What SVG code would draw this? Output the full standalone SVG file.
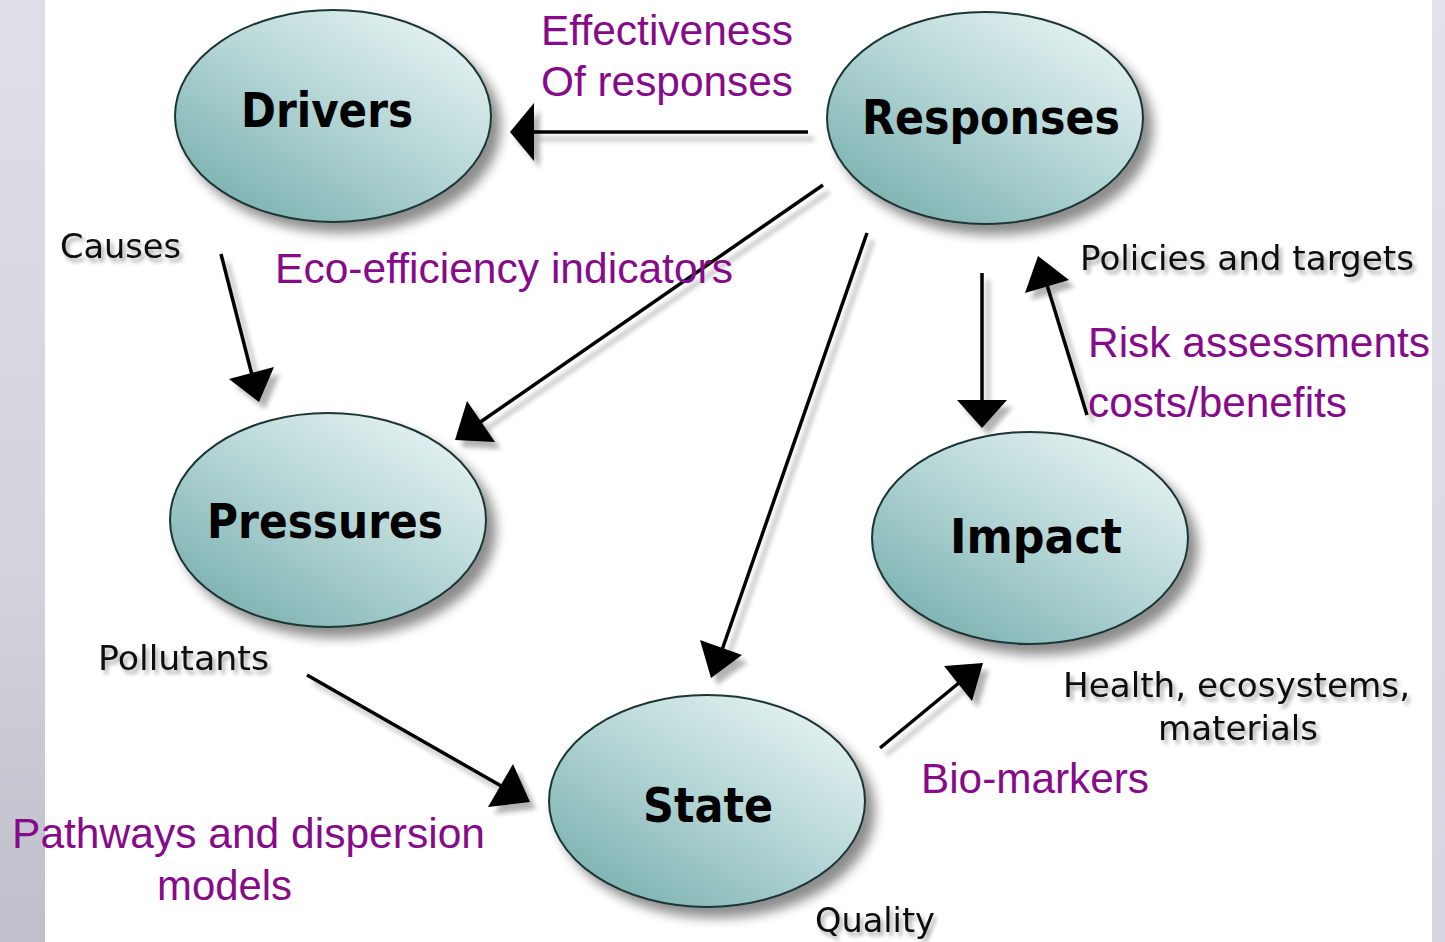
<svg xmlns="http://www.w3.org/2000/svg" width="1445" height="942" viewBox="0 0 1445 942">
<defs>
<linearGradient id="strip" x1="0" y1="0" x2="0" y2="1">
<stop offset="0" stop-color="#dedfe8"/><stop offset="0.6" stop-color="#d3d3de"/><stop offset="1" stop-color="#bfbfcb"/>
</linearGradient>
<linearGradient id="strip2" x1="0" y1="0" x2="0" y2="1">
<stop offset="0" stop-color="#e2e2ec"/><stop offset="1" stop-color="#d6d6e2"/>
</linearGradient>
<linearGradient id="ell" x1="0.85" y1="0.1" x2="0.15" y2="0.9">
<stop offset="0" stop-color="#e2f0f0"/><stop offset="0.5" stop-color="#b2d4d4"/><stop offset="1" stop-color="#7fb3b3"/>
</linearGradient>
<filter id="sh" x="-20%" y="-20%" width="150%" height="150%">
<feGaussianBlur in="SourceAlpha" stdDeviation="6"/>
<feOffset dx="9" dy="10" result="b"/>
<feComponentTransfer><feFuncA type="linear" slope="0.45"/></feComponentTransfer>
<feMerge><feMergeNode/><feMergeNode in="SourceGraphic"/></feMerge>
</filter>
<filter id="lsh" x="-20%" y="-20%" width="150%" height="150%">
<feGaussianBlur in="SourceAlpha" stdDeviation="2.5"/>
<feOffset dx="6" dy="7" result="b"/>
<feComponentTransfer><feFuncA type="linear" slope="0.3"/></feComponentTransfer>
<feMerge><feMergeNode/><feMergeNode in="SourceGraphic"/></feMerge>
</filter>
<filter id="tsh" x="-10%" y="-30%" width="130%" height="180%">
<feGaussianBlur in="SourceAlpha" stdDeviation="2"/>
<feOffset dx="3" dy="4" result="b"/>
<feComponentTransfer><feFuncA type="linear" slope="0.35"/></feComponentTransfer>
<feMerge><feMergeNode/><feMergeNode in="SourceGraphic"/></feMerge>
</filter>
</defs>
<style>
.node ellipse{fill:url(#ell);stroke:#1e3535;stroke-width:2;filter:url(#sh)}
.nt{font-family:"DejaVu Sans",Verdana,sans-serif;font-weight:bold;font-size:48px;fill:#000}
.lb{font-family:"DejaVu Sans",Verdana,sans-serif;font-size:33px;fill:#111;filter:url(#tsh)}
.pl{font-family:"Liberation Sans",Arial,sans-serif;font-size:42.5px;fill:#860a8a}
.cn line{stroke:#000;stroke-width:3.5}
.cn polygon{fill:#000}
</style>
<rect width="1445" height="942" fill="#fff"/>
<rect x="0" y="0" width="45" height="942" fill="url(#strip)"/>
<rect x="1432" y="0" width="13" height="942" fill="url(#strip2)"/>

<g id="connectors" class="cn" filter="url(#lsh)">
<line x1="808" y1="132" x2="532" y2="132"/>
<polygon points="510,132 534,103 534,161"/>
<line x1="221" y1="254" x2="252" y2="375"/>
<polygon points="259,402 229,379 274,367"/>
<line x1="823" y1="185" x2="479" y2="423"/>
<polygon points="455,440 467,401 495,442"/>
<line x1="867" y1="233" x2="722" y2="650"/>
<polygon points="711,678 700,640 742,655"/>
<line x1="982" y1="273" x2="982" y2="402"/>
<polygon points="982,428 957,400 1007,400"/>
<line x1="1087" y1="415" x2="1047" y2="285"/>
<polygon points="1038,256 1069,280 1025,293"/>
<line x1="307" y1="675" x2="503" y2="787"/>
<polygon points="530,802 488,807 513,764"/>
<line x1="880" y1="748" x2="960" y2="682"/>
<polygon points="983,663 972,701 944,666"/>
</g>

<g id="drivers" class="node">
<ellipse cx="333" cy="116" rx="158" ry="106"/>
<text class="nt" x="241" y="127" textLength="172" lengthAdjust="spacingAndGlyphs">Drivers</text>
</g>
<g id="responses" class="node">
<ellipse cx="985" cy="118" rx="158" ry="106"/>
<text class="nt" x="862" y="134" textLength="258" lengthAdjust="spacingAndGlyphs">Responses</text>
</g>
<g id="pressures" class="node">
<ellipse cx="328" cy="520" rx="158" ry="107"/>
<text class="nt" x="207" y="538" textLength="236" lengthAdjust="spacingAndGlyphs">Pressures</text>
</g>
<g id="impact" class="node">
<ellipse cx="1030" cy="538" rx="158" ry="106"/>
<text class="nt" x="950" y="553" textLength="172" lengthAdjust="spacingAndGlyphs">Impact</text>
</g>
<g id="state" class="node">
<ellipse cx="707" cy="801" rx="158" ry="106"/>
<text class="nt" x="643" y="822" textLength="130" lengthAdjust="spacingAndGlyphs">State</text>
</g>

<g id="labels">
<text class="lb" x="60" y="258" textLength="121" lengthAdjust="spacingAndGlyphs">Causes</text>
<text class="lb" x="1080" y="270" textLength="334" lengthAdjust="spacingAndGlyphs">Policies and targets</text>
<text class="lb" x="98" y="670" textLength="171" lengthAdjust="spacingAndGlyphs">Pollutants</text>
<text class="lb" x="1063" y="697" textLength="347" lengthAdjust="spacingAndGlyphs">Health, ecosystems,</text>
<text class="lb" x="1158" y="740" textLength="160" lengthAdjust="spacingAndGlyphs">materials</text>
<text class="lb" x="815" y="932" textLength="120" lengthAdjust="spacingAndGlyphs">Quality</text>

<text class="pl" x="541" y="45" textLength="252" lengthAdjust="spacingAndGlyphs">Effectiveness</text>
<text class="pl" x="541" y="96" textLength="252" lengthAdjust="spacingAndGlyphs">Of responses</text>
<text class="pl" x="275" y="283" textLength="458" lengthAdjust="spacingAndGlyphs">Eco-efficiency indicators</text>
<text class="pl" x="1088" y="357" textLength="342" lengthAdjust="spacingAndGlyphs">Risk assessments</text>
<text class="pl" x="1088" y="417" textLength="259" lengthAdjust="spacingAndGlyphs">costs/benefits</text>
<text class="pl" x="921" y="793" textLength="228" lengthAdjust="spacingAndGlyphs">Bio-markers</text>
<text class="pl" x="12" y="848" textLength="473" lengthAdjust="spacingAndGlyphs">Pathways and dispersion</text>
<text class="pl" x="157" y="900" textLength="135" lengthAdjust="spacingAndGlyphs">models</text>
</g>
</svg>
